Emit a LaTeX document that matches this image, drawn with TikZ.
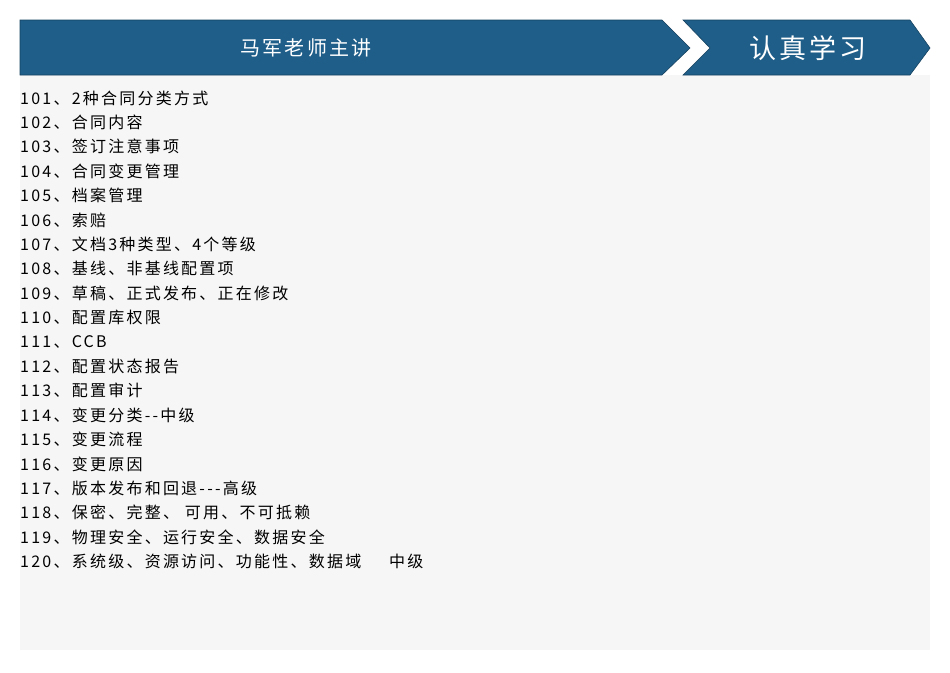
\documentclass[tikz,border=0pt]{standalone}
\usepackage{fontspec}
\newfontfamily\cjk{Noto Sans CJK SC}
\newfontfamily\cjkls[LetterSpace=14]{Noto Sans CJK SC}
\newfontfamily\cjkhd[LetterSpace=12]{Noto Sans CJK SC}
\definecolor{bannerblue}{HTML}{1F5E89}
\definecolor{panelgrey}{HTML}{F6F6F6}
\tikzset{x=1pt,y=-1pt,
  item/.style={anchor=west,inner sep=0pt,font=\cjkls\fontsize{16}{16}\selectfont,text=black},
  banner/.style={fill=bannerblue,draw=bannerblue!70!black,line width=0.6pt}}
\begin{document}
\begin{tikzpicture}
\useasboundingbox[fill=white] (0,0) rectangle (950,672);
\fill[panelgrey] (20,75) rectangle (930,650);
\draw[banner] (20,20) -- (662,20) -- (690,48) -- (662,75) -- (20,75) -- cycle;
\draw[banner] (683,20) -- (910,20) -- (930,48) -- (910,75) -- (683,75) -- (710,48) -- cycle;
\node[text=white,font=\cjkhd\fontsize{20}{20}\selectfont] (t1) at (306,48) {马军老师主讲};
\node[text=white,font=\cjkhd\fontsize{27}{27}\selectfont] (t2) at (808,48) {认真学习};
\foreach \t [count=\i from 0] in {
101、2种合同分类方式,
102、合同内容,
103、签订注意事项,
104、合同变更管理,
105、档案管理,
106、索赔,
107、文档3种类型、4个等级,
108、基线、非基线配置项,
109、草稿、正式发布、正在修改,
110、配置库权限,
111、CCB,
112、配置状态报告,
113、配置审计,
114、变更分类--中级,
115、变更流程,
116、变更原因,
117、版本发布和回退---高级,
118、保密、完整、 可用、不可抵赖,
119、物理安全、运行安全、数据安全,
120、系统级、资源访问、功能性、数据域 \quad\ 中级}
  \node[item] (l\i) at (20,{98+24.4*\i}) {\t};
\end{tikzpicture}
\end{document}
